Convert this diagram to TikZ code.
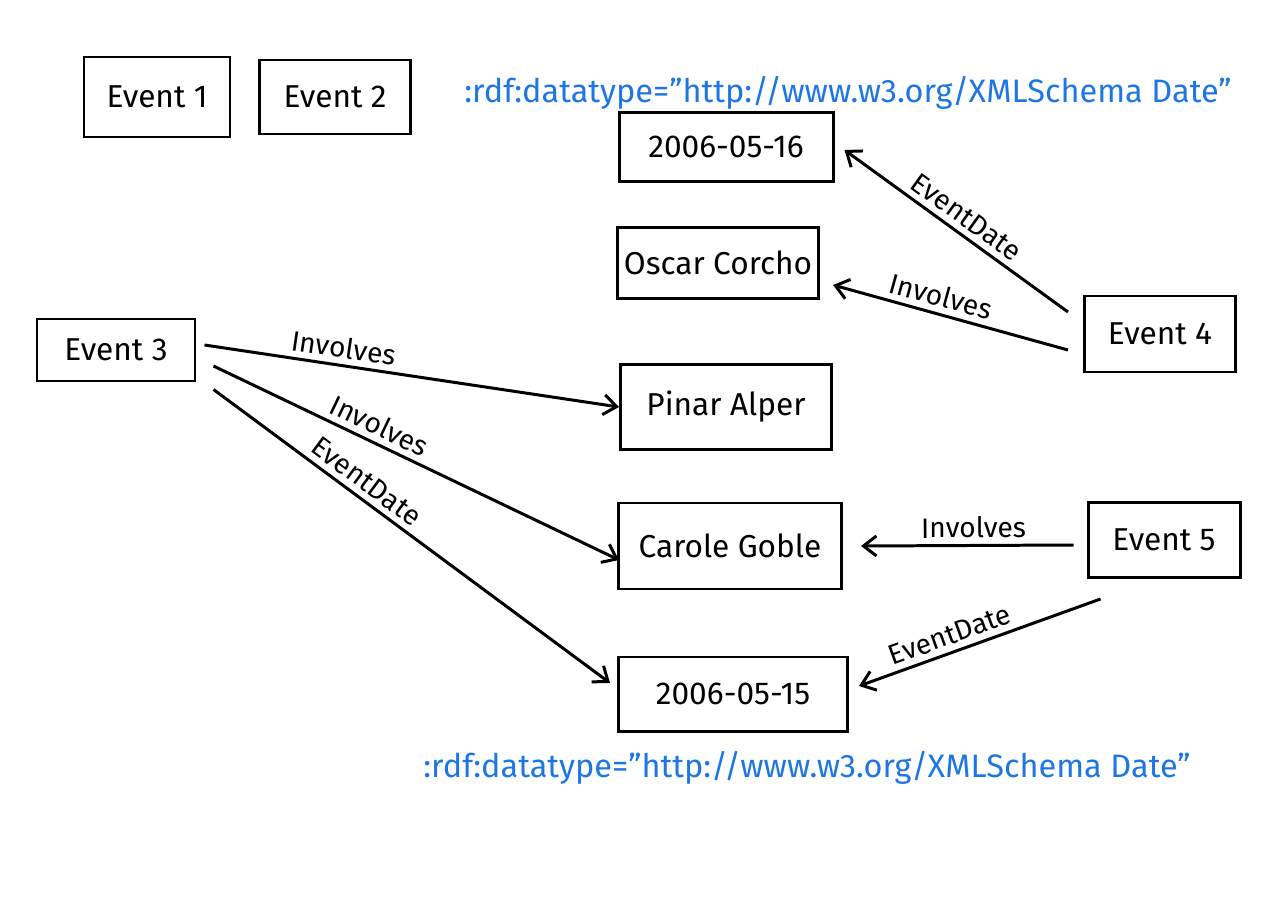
\documentclass[tikz,border=0pt]{standalone}
\usepackage{fontspec}
\setmainfont{Fira Sans}
\usetikzlibrary{arrows.meta, calc}
\definecolor{inkblue}{RGB}{30,118,228}

\begin{document}
\begin{tikzpicture}[
  box/.style={draw, line width=1.7pt, inner sep=0pt, font=\fontsize{18}{21}\selectfont},
  link/.style={line width=1.7pt, -{Straight Barb[length=2.6mm, width=4mm]}},
  lbl/.style={sloped, above, font=\fontsize{16}{19}\selectfont},
  note/.style={inkblue, font=\fontsize{18.5}{21}\selectfont}
]
\useasboundingbox (0,0) rectangle (25.6,-18.1);
% events
\node[box, minimum width=2.92cm, minimum height=1.6cm] (ev1) at (3.14,-1.94) {Event 1};
\node[box, minimum width=3.02cm, minimum height=1.48cm] (ev2) at (6.70,-1.94) {Event 2};
\node[box, minimum width=3.16cm, minimum height=1.24cm] (ev3) at (2.32,-7.0) {Event 3};
\node[box, minimum width=3.02cm, minimum height=1.52cm] (ev4) at (23.2,-6.68) {Event 4};
\node[box, minimum width=3.04cm, minimum height=1.5cm] (ev5) at (23.28,-10.8) {Event 5};
% values
\node[box, minimum width=4.28cm, minimum height=1.38cm] (d16) at (14.52,-2.94) {2006-05-16};
\node[box, minimum width=4.02cm, minimum height=1.42cm] (oscar) at (14.36,-5.26) {Oscar Corcho};
\node[box, minimum width=4.22cm, minimum height=1.7cm] (pinar) at (14.52,-8.14) {Pinar Alper};
\node[box, minimum width=4.46cm, minimum height=1.72cm] (carole) at (14.6,-10.92) {Carole Goble};
\node[box, minimum width=4.58cm, minimum height=1.48cm] (d15) at (14.66,-13.88) {2006-05-15};
% datatype notes
\node[note] (top) at (16.96,-1.86) {:rdf:datatype="http://www.w3.org/XMLSchema Date"};
\node[note] (bot) at (16.14,-15.36) {:rdf:datatype="http://www.w3.org/XMLSchema Date"};
% links from Event 3
\draw[link] ($(ev3.east)+(0.16,0.1)$) -- (pinar.west) node[lbl, pos=0.33] {Involves};
\draw[link] ($(ev3.east)+(0.34,-0.32)$) -- ($(carole.west)+(0.04,-0.28)$) node[lbl, pos=0.39] {Involves};
\draw[link] ($(ev3.south east)+(0.34,-0.14)$) -- ($(d15.west)+(-0.14,0.22)$) node[lbl, pos=0.36] {EventDate};
% links from Event 4
\draw[link] ($(ev4.west)+(-0.3,0.44)$) -- ($(d16.east)+(0.2,-0.06)$) node[lbl, pos=0.5] {EventDate};
\draw[link] ($(ev4.west)+(-0.3,-0.32)$) -- ($(oscar.east)+(0.26,-0.44)$) node[lbl, pos=0.56] {Involves};
% links from Event 5
\draw[link] ($(ev5.west)+(-0.26,-0.1)$) -- ($(carole.east)+(0.36,0)$) node[lbl, pos=0.47] {Involves};
\draw[link] ($(ev5.south west)+(0.28,-0.4)$) -- ($(d15.east)+(0.2,0.16)$) node[lbl, pos=0.6] {EventDate};
\end{tikzpicture}
\end{document}
